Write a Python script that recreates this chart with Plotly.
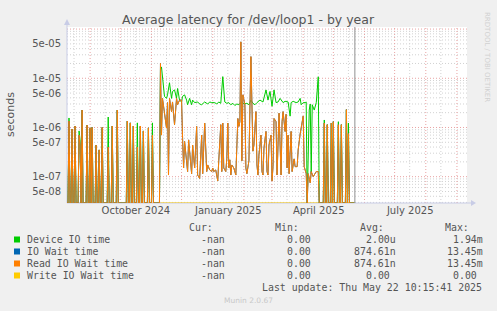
import numpy as np
import pandas as pd
import plotly.graph_objects as go

# ---------------- data ----------------
START = pd.Timestamp("2024-08-09")
X_RANGE = ["2024-08-09", "2025-09-11"]
NOW = "2025-05-22 10:15:41"
Y_LOG_RANGE = [-7.535, -3.958]

# (day offset from START, seconds)
read_p1 = [(0,0),(1,0),(2,1.35e-6),(3,0),(4,0),(5,9.3e-7),(6,0),(7,0),(8,1.07e-6),(9,0),
           (11,0),(12,7.0e-7),(13,4.4e-7),(14,0),(15,2.26e-6),(16,0),(19,0),(20,1.12e-6),(21,0),
           (22,0),(23,9.8e-7),(24,0),(25,1.0e-6),(26,0),(28,0),(29,4.4e-7),(30,0),(31,0),(32,3.5e-7),
           (33,0),(34,0),(35,1.0e-6),(36,0),(40,0),(41,4.0e-7),(42,0),(44,0),(45,1.07e-6),(46,0),
           (49,0),(50,2.26e-6),(51,0),(59,0),(60,1.35e-6),(61,0),(62,0),(63,1.24e-6),(64,0),(65,0),
           (66,1.07e-6),(67,0),(69,0),(70,4.0e-7),(71,0),(72,0),(73,1.07e-6),(74,0),(75,0),(76,8.5e-7),
           (77,0),(80,0),(81,9.8e-7),(82,0),(84,0),(85,7.0e-7),(86,0),(92,0)]
read_p2 = [(93,2.0e-5),(94,7.0e-7),(95,3.9e-6),(97,1.97e-6),(99,9.7e-7),(100,3.2e-6),(101,1.08e-7),
           (102,3.9e-6),(104,2.1e-6),(105,3.3e-6),(107,1.14e-6),(109,3.9e-6),(110,2.9e-6),(112,3.6e-6),
           (114,3.6e-6),(115,6.0e-7),(116,1.5e-7),(117,5.2e-7),(119,1.73e-7),(120,1.27e-7),(121,5.6e-7),
           (123,1.37e-7),(124,1.15e-7),(125,4.4e-7),(127,1.5e-7),(129,1.05e-6),(130,1.08e-7),(132,9.2e-8),
           (134,7.0e-7),(135,1.15e-7),(137,1.23e-6),(139,1.27e-7),(140,1.73e-7),(142,1.37e-7),(144,1.27e-7),
           (145,1.5e-7),(146,1.27e-7),(148,1.37e-7),(150,8.2e-8),(151,2.1e-7),(153,1.14e-6),(154,1.27e-7),
           (155,1.23e-6),(156,1.5e-7),(158,1.27e-7),(159,2.3e-7),(160,1.23e-6),(161,1.5e-7),(162,2.2e-7),
           (163,1.08e-7),(164,1.73e-7),(166,1.5e-7),(168,1.08e-7),(170,1.52e-6),(171,1.05e-6),(172,1.31e-6),
           (173,5.5e-5),(174,2.1e-7),(175,4.6e-6),(177,2.9e-6),(178,1.5e-7),(179,1.15e-7),(181,2.1e-7),
           (183,2.75e-5),(184,3.3e-6),(185,3.3e-7),(186,4.4e-7),(188,2.1e-6),(189,1.73e-7),(190,1.08e-7),
           (191,2.8e-7),(193,7.0e-7),(194,1.27e-7),(195,1.08e-7),(196,3.8e-7),(198,8.3e-7),(199,1.27e-7),
           (200,1.08e-7),(201,4.4e-7),(203,7.0e-7),(204,8.2e-8),(205,1.6e-7),(206,1.52e-6),(208,1.31e-6),
           (209,1.08e-7),(210,7.0e-7),(211,1.95e-6),(213,1.08e-7),(214,1.31e-6),(215,2.1e-6),(217,8.3e-7),
           (218,1.85e-6),(219,1.5e-7),(220,7.0e-7),(221,1.15e-7),(223,8.3e-7),(224,1.27e-7),(226,2.3e-7),
           (227,1.6e-7),(229,1.6e-7),(230,3.5e-7),(232,7.4e-7),(234,1.42e-6),(235,1.7e-6),(236,1.6e-7),
           (238,1.15e-7),(239,0),(240,1.15e-7),(242,7.5e-8),(243,1.27e-7),(245,1.0e-7),(247,1.15e-7),
           (248,1.27e-7),(250,1.27e-7)]
read_p3 = [(251,0),(255,0),(256,1.23e-6),(257,0),(258,0),(259,1.14e-6),(260,0),(262,0),(263,1.23e-6),
           (264,0),(265,1.31e-6),(266,0),(269,0),(270,1.14e-6),(271,0),(272,0),(273,1.14e-6),(274,0),
           (277,0),(278,2.3e-6),(279,0),(280,7.5e-7),(281,0),(286,0)]

dev_p1 = [(0,0),(1,0),(2,1.56e-6),(3,0),(4,0),(5,9.3e-7),(6,0),(7,0),(8,1.07e-6),(9,0),
          (11,0),(12,8.5e-7),(13,5.6e-7),(14,0),(15,2.26e-6),(16,0),(19,0),(20,1.12e-6),(21,0),
          (22,0),(23,9.8e-7),(24,0),(25,1.0e-6),(26,0),(28,0),(29,4.4e-7),(30,0),(31,0),(32,3.5e-7),
          (33,0),(34,0),(35,1.0e-6),(36,0),(40,0),(41,1.63e-6),(42,0),(44,0),(45,1.07e-6),(46,0),
          (49,0),(50,2.26e-6),(51,0),(59,0),(60,1.35e-6),(61,0),(62,0),(63,1.24e-6),(64,0),(65,0),
          (66,1.07e-6),(67,0),(69,0),(70,1.24e-6),(71,0),(72,0),(73,1.07e-6),(74,0),(75,0),(76,8.5e-7),
          (77,0),(80,0),(81,9.8e-7),(82,0),(84,0),(85,1.24e-6),(86,0),(92,0)]
dev_p2 = [(93,1.5e-5),(94,1.7e-5),(95,1.17e-5),(97,4.3e-6),(99,3.9e-6),(100,4.6e-6),(102,8.1e-6),
          (104,3.9e-6),(105,5.4e-6),(107,5.8e-6),(109,3.9e-6),(110,6.2e-6),(112,3.6e-6),(114,3.3e-6),
          (115,4.3e-6),(117,4.6e-6),(119,3.6e-6),(120,2.9e-6),(122,3.9e-6),(124,2.9e-6),(125,3.6e-6),
          (127,3.2e-6),(130,3.3e-6),(132,3.0e-6),(134,2.9e-6),(137,3.3e-6),(140,3.0e-6),(142,3.3e-6),
          (144,3.2e-6),(147,3.2e-6),(149,3.0e-6),(151,3.3e-6),(153,3.1e-6),(155,1.08e-5),(157,3.3e-6),
          (159,3.1e-6),(161,3.2e-6),(163,2.9e-6),(165,3.1e-6),(167,2.8e-6),(169,3.0e-6),(171,2.9e-6),
          (173,3.2e-6),(174,3.3e-6),(176,3.0e-6),(179,3.1e-6),(181,2.9e-6),(183,3.6e-6),(185,3.1e-6),
          (187,2.9e-6),(189,3.2e-6),(192,3.6e-6),(195,3.3e-6),(198,5.8e-6),(200,3.6e-6),(202,5.4e-6),
          (204,2.7e-6),(206,5.8e-6),(208,3.2e-6),(210,3.3e-6),(212,3.9e-6),(215,3.2e-6),(217,3.4e-6),
          (220,3.3e-6),(222,1.7e-6),(223,3.2e-6),(225,3.4e-6),(228,3.2e-6),(230,3.3e-6),(232,3.9e-6),
          (233,2.9e-6),(235,3.2e-6),(237,3.2e-6),(238,3.3e-6),(239,0),(241,2.26e-6),(242,3.0e-6),
          (243,1.15e-7),(244,2.9e-6),(246,2.26e-6),(248,3.2e-6),(250,1.07e-5)]
dev_p3 = [(251,0),(255,0),(256,1.42e-6),(257,0),(258,0),(259,1.14e-6),(260,0),(262,0),(263,1.23e-6),
          (264,0),(265,1.31e-6),(266,0),(269,0),(270,1.31e-6),(271,0),(272,0),(273,1.14e-6),(274,0),
          (277,0),(278,2.3e-6),(279,0),(280,1.23e-6),(281,0),(286,0)]

write_pts = [(93,0.0),(286,0.0)]

series_names = ["Device IO time", "IO Wait time", "Read IO Wait time", "Write IO Wait time"]
series_colors = ["#00CC00", "#0066B3", "#FF8000", "#FFCC00"]
cur_col = ["-nan", "-nan", "-nan", "-nan"]
min_col = ["0.00", "0.00", "0.00", "0.00"]
avg_col = ["2.00u", "874.61n", "874.61n", "0.00 "]
max_col = ["1.94m", "13.45m", "13.45m", "0.00 "]
y_tickvals = [5e-5, 1e-5, 5e-6, 1e-6, 5e-7, 1e-7, 5e-8]
y_ticktext = ["5e-05", "1e-05", "5e-06", "1e-06", "5e-07", "1e-07", "5e-08"]
x_tickvals = ["2024-10-16 12:00", "2025-01-16 12:00", "2025-04-16 12:00", "2025-07-16 12:00"]
x_ticktext = ["October 2024", "January 2025", "April 2025", "July 2025"]

# ---------------- helpers ----------------
W, H = 497, 311
L, R, T, B = 67, 467, 27, 203
FLOOR = 10 ** Y_LOG_RANGE[0]


def to_xy(pts):
    d = [p[0] for p in pts]
    v = np.array([p[1] for p in pts], dtype=float)
    x = START + pd.to_timedelta(d, unit="D")
    y = np.where(v > 0, v, FLOOR)
    return x, y


def px(x):
    return (x - L) / (R - L)


def py(y):
    return (B - y) / (B - T)


def ylog_paper(v):
    return (np.log10(v) - Y_LOG_RANGE[0]) / (Y_LOG_RANGE[1] - Y_LOG_RANGE[0])


read_all = read_p1 + read_p2 + read_p3
dev_all = dev_p1 + dev_p2 + dev_p3
iowait_all = list(read_all)

fig = go.Figure()
for pts, col in [(write_pts, series_colors[3]), (dev_all, series_colors[0]),
                 (iowait_all, series_colors[1]), (read_all, series_colors[2])]:
    x, y = to_xy(pts)
    fig.add_trace(go.Scatter(x=x, y=y, mode="lines", line=dict(color=col, width=1),
                             hoverinfo="skip", showlegend=False))

shapes = []
# horizontal grid
for e in range(-8, -3):
    for k in range(1, 10):
        v = k * 10 ** e
        lv = np.log10(v)
        if lv < Y_LOG_RANGE[0] or lv > Y_LOG_RANGE[1]:
            continue
        yp = ylog_paper(v)
        shapes.append(dict(type="line", xref="paper", yref="paper", x0=0, x1=1, y0=yp, y1=yp,
                           layer="below",
                           line=dict(color="#E9A3A3" if k == 1 else "#D2D2D2", width=1, dash="1px,2px")))
# vertical grid
for m in pd.date_range("2024-08-01", "2025-09-30", freq="MS"):
    for dd, colr in [(0, "#E9A3A3"), (15, "#D2D2D2")]:
        t = m + pd.Timedelta(days=dd)
        if pd.Timestamp(X_RANGE[0]) < t < pd.Timestamp(X_RANGE[1]):
            shapes.append(dict(type="line", xref="x", yref="paper", x0=t, x1=t, y0=0, y1=1,
                               layer="below", line=dict(color=colr, width=1, dash="1px,2px")))
# now line
shapes.append(dict(type="line", xref="x", yref="paper", x0=NOW, x1=NOW, y0=0, y1=1,
                   line=dict(color="#909090", width=1)))
# axes with arrows
axc = "#C8CCE6"
shapes.append(dict(type="line", xref="paper", yref="paper", x0=0, x1=0, y0=0, y1=py(22),
                   line=dict(color=axc, width=1), layer="below"))
shapes.append(dict(type="line", xref="paper", yref="paper", x0=0, x1=px(472), y0=0, y1=0,
                   line=dict(color=axc, width=1), layer="below"))
shapes.append(dict(type="path", xref="paper", yref="paper",
                   path=f"M {px(64)} {py(25)} L {px(70)} {py(25)} L {px(67)} {py(19)} Z",
                   fillcolor=axc, line=dict(width=0)))
shapes.append(dict(type="path", xref="paper", yref="paper",
                   path=f"M {px(471)} {py(200)} L {px(471)} {py(206)} L {px(476)} {py(203)} Z",
                   fillcolor=axc, line=dict(width=0)))

annotations = []
TXT = "#555555"
MONO = "DejaVu Sans Mono"
FS = 9.9
annotations.append(dict(text="Average latency for /dev/loop1 - by year", xref="paper", yref="paper",
                        x=px(248.5), y=py(20), xanchor="center", yanchor="middle", showarrow=False,
                        font=dict(family="DejaVu Sans", size=12.5, color=TXT)))
annotations.append(dict(text="seconds", xref="paper", yref="paper", x=px(11), y=py(114),
                        xanchor="center", yanchor="middle", textangle=-90, showarrow=False,
                        font=dict(family="DejaVu Sans", size=11, color=TXT)))
annotations.append(dict(text="RRDTOOL / TOBI OETIKER", xref="paper", yref="paper", x=px(487), y=py(57),
                        xanchor="center", yanchor="middle", textangle=90, showarrow=False,
                        font=dict(family="DejaVu Sans", size=7, color="#D0D0D0")))

headers = [("Cur:", 214.5), ("Min:", 301), ("Avg:", 386), ("Max:", 471)]
for t, xr in headers:
    annotations.append(dict(text=t, xref="paper", yref="paper", x=px(xr), y=py(227.5),
                            xanchor="right", yanchor="middle", showarrow=False,
                            font=dict(family=MONO, size=FS, color=TXT)))
row_y = [239.5, 251.5, 263.5, 275.5]
for i, name in enumerate(series_names):
    yy = row_y[i]
    shapes.append(dict(type="rect", xref="paper", yref="paper", x0=px(14), x1=px(20),
                       y0=py(yy + 3), y1=py(yy - 3), fillcolor=series_colors[i], line=dict(width=0)))
    annotations.append(dict(text=name, xref="paper", yref="paper", x=px(24.5), y=py(yy),
                            xanchor="left", yanchor="middle", showarrow=False,
                            font=dict(family=MONO, size=FS, color=TXT)))
    for col, xr in [(cur_col, 227), (min_col, 313), (avg_col, 398), (max_col, 484.5)]:
        annotations.append(dict(text=col[i].replace(" ", "&nbsp;"), xref="paper", yref="paper",
                                x=px(xr), y=py(yy), xanchor="right", yanchor="middle",
                                showarrow=False, font=dict(family=MONO, size=FS, color=TXT)))
annotations.append(dict(text="Last update: Thu May 22 10:15:41 2025", xref="paper", yref="paper",
                        x=px(484), y=py(287.5), xanchor="right", yanchor="middle", showarrow=False,
                        font=dict(family=MONO, size=FS, color=TXT)))
annotations.append(dict(text="Munin 2.0.67", xref="paper", yref="paper", x=px(248), y=py(300.5),
                        xanchor="center", yanchor="middle", showarrow=False,
                        font=dict(family="DejaVu Sans", size=7.5, color="#C8C8C8")))

fig.update_layout(
    width=W, height=H,
    margin=dict(l=L, r=W - R, t=T, b=H - B, pad=0),
    paper_bgcolor="#F0F0F0", plot_bgcolor="#FFFFFF",
    shapes=shapes, annotations=annotations,
    xaxis=dict(type="date", range=X_RANGE, showgrid=False, zeroline=False, showline=False,
               tickvals=x_tickvals, ticktext=x_ticktext, ticks="",
               tickfont=dict(family="DejaVu Sans", size=10, color=TXT)),
    yaxis=dict(type="log", range=Y_LOG_RANGE, showgrid=False, zeroline=False, showline=False,
               tickvals=y_tickvals, ticktext=y_ticktext, ticks="", ticklabelstandoff=5,
               tickfont=dict(family="DejaVu Sans", size=10, color=TXT)),
)
fig.write_html("out.html")
